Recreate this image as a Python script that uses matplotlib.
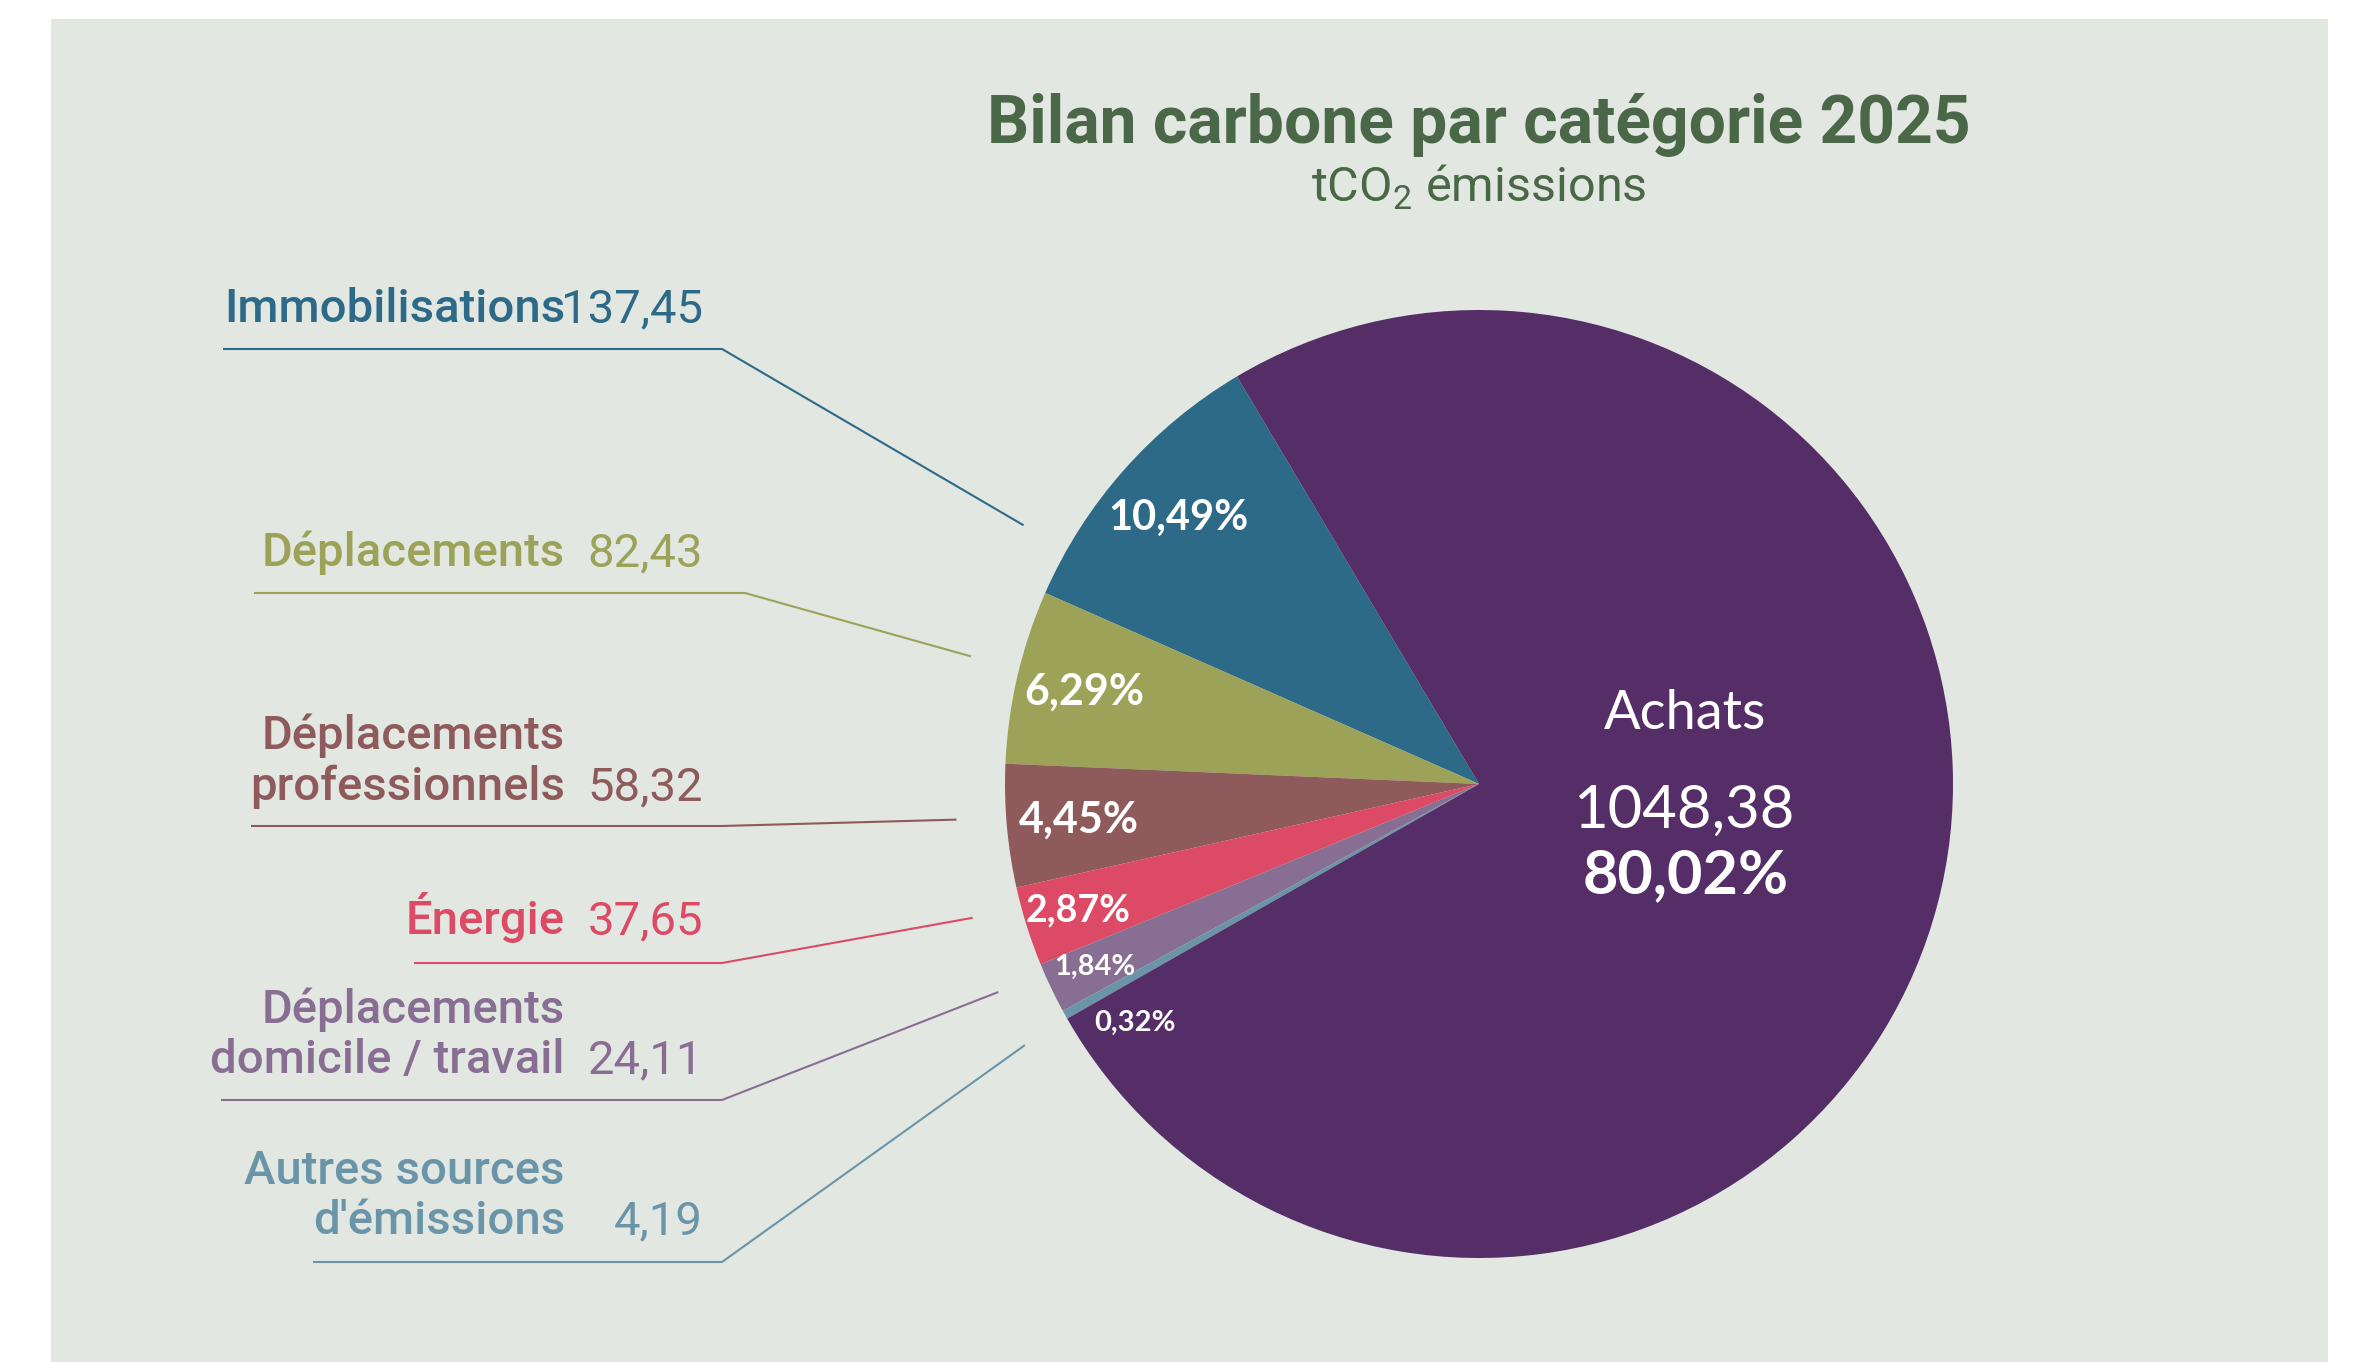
import numpy as np
import matplotlib.pyplot as plt
from matplotlib.patches import Rectangle

plt.rcParams['mathtext.fontset'] = 'custom'
plt.rcParams['mathtext.rm'] = 'Roboto'
plt.rcParams['mathtext.bf'] = 'Roboto:bold'

# Bilan carbone 2025, tCO2 par catégorie
categories = ["Immobilisations", "Déplacements", "Déplacements\nprofessionnels", "Énergie",
              "Déplacements\ndomicile / travail", "Autres sources\nd'émissions", "Achats"]
emissions = [137.45, 82.43, 58.32, 37.65, 24.11, 4.19, 1048.38]
pct_labels = ["10,49%", "6,29%", "4,45%", "2,87%", "1,84%", "0,32%", "80,02%"]
colors = ["#2d6a88", "#9ca358", "#8f5a5c", "#dc4a65", "#876e92", "#6a95a8", "#552e68"]

W, H = 2359, 1362
cx, cy, R = 1479, 784, 474

# mise en page des étiquettes de gauche (pixels)
name_right, value_right = 565, 703
label_baselines = [[322], [566], [749, 800], [934], [1023, 1073], [1184, 1234]]
underline_y = [349, 593, 826, 963, 1100, 1262]
underline_x0 = [223, 254, 251, 414, 221, 313]
elbow_x = [722, 745, 722, 722, 722, 722]
tip_angle = [150.4, 165.9, 183.9, 194.8, 203.4, 209.9]
# position des pourcentages dans les parts
pct_r = [0.848, 0.855, 0.848, 0.886, 0.897, 0.884]
pct_shift = [0, 0, 0, 0, 0, 5.7]
pct_size = [30, 31, 31, 27, 21, 21]

fig = plt.figure(figsize=(W / 100, H / 100), dpi=100, facecolor='white')
ax = fig.add_axes([0, 0, 1, 1])
ax.add_patch(Rectangle((51, 19), 2277, H - 19, facecolor='#e2e7e1', edgecolor='none', zorder=0))

wedges, _ = ax.pie(emissions, colors=colors, startangle=-120.7, counterclock=False,
                   center=(cx, cy), radius=R, wedgeprops=dict(linewidth=0))
ax.set_xlim(0, W)
ax.set_ylim(H, 0)
ax.set_aspect('auto')
ax.axis('off')

ax.text(cx, 143, "Bilan carbone par catégorie 2025", ha='center', va='baseline',
        fontsize=47.5, fontweight='bold', family='Roboto', color='#4a6848')
ax.text(cx, 202, r"tCO$_{\mathrm{2}}$ émissions", ha='center', va='baseline',
        fontsize=35, family='Roboto', color='#4a6848')

for i in range(6):
    col = colors[i]
    lines = categories[i].split("\n")
    for line, yb in zip(lines, label_baselines[i]):
        ax.text(name_right, yb, line, ha='right', va='baseline', fontsize=34,
                family='Roboto', fontweight='medium', color=col)
    val = f"{emissions[i]:.2f}".replace('.', ',')
    ax.text(value_right, label_baselines[i][-1], val, ha='right', va='baseline',
            fontsize=34, family='Roboto', fontweight='normal', color=col)

    # trait de rappel vers la part
    a = np.deg2rad(tip_angle[i])
    tx, ty = cx + 1.105 * R * np.cos(a), cy - 1.105 * R * np.sin(a)
    ax.plot([underline_x0[i], elbow_x[i], tx], [underline_y[i], underline_y[i], ty],
            color=col, lw=1.5, solid_capstyle='butt')

    # pourcentage dans la part
    w = wedges[i]
    mid = -(w.theta1 + w.theta2) / 2 + pct_shift[i]
    m = np.deg2rad(mid)
    px, py = cx + pct_r[i] * R * np.cos(m), cy - pct_r[i] * R * np.sin(m)
    ax.text(px, py, pct_labels[i], ha='center', va='center', fontsize=pct_size[i],
            family='Lato', fontweight='bold', color='white')

# étiquette de la part principale
ax.text(1685, 729, categories[6], ha='center', va='baseline', fontsize=39,
        family='Lato', color='white')
ax.text(1684, 828, f"{emissions[6]:.2f}".replace('.', ','), ha='center', va='baseline',
        fontsize=43, family='Lato', fontweight='normal', color='white')
ax.text(1686, 893, pct_labels[6], ha='center', va='baseline', fontsize=44,
        family='Lato', fontweight='bold', color='white')

fig.savefig('out.png', dpi=100, facecolor='white')
